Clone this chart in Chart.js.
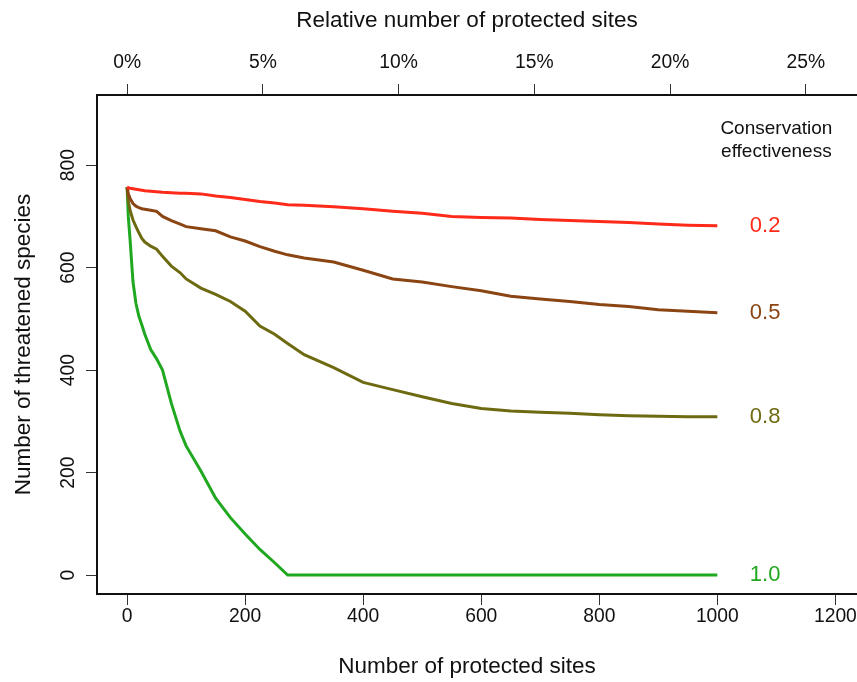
<!DOCTYPE html>
<html>
<head>
<meta charset="utf-8">
<script src="https://cdn.jsdelivr.net/npm/chart.js@4"></script>
<style>
  html, body { margin: 0; padding: 0; background: #fff; overflow: hidden; }
  #wrap { position: absolute; left: 0; top: 0; width: 900px; height: 682px; }
</style>
</head>
<body>
<div id="wrap"><canvas id="c" width="900" height="682"></canvas></div>
<script>
// ---- data ----
const sites = [0, 2, 5, 10, 15, 20, 25, 30, 40, 50, 60, 75, 90, 100, 125, 150, 175, 200, 225, 250, 272, 300, 350, 400, 450, 500, 550, 600, 650, 700, 750, 800, 850, 900, 950, 1000];
const eff02 = [757, 756, 755, 754, 753, 752, 751, 750, 749, 748, 747, 746, 745, 745, 744, 740, 737, 733, 729, 726, 723, 722, 719, 715, 710, 706, 700, 698, 697, 694, 692, 690, 688, 685, 683, 682];
const eff05 = [757, 745, 735, 725, 720, 717, 715, 714, 712, 710, 700, 692, 685, 680, 676, 672, 660, 652, 641, 632, 625, 619, 611, 595, 578, 572, 563, 555, 544, 539, 534, 528, 524, 518, 515, 512];
const eff08 = [757, 730, 712, 693, 680, 668, 657, 650, 642, 636, 622, 603, 590, 578, 560, 548, 534, 515, 486, 470, 452, 430, 405, 376, 362, 348, 335, 325, 320, 318, 316, 313, 311, 310, 309, 309];
const eff10 = [757, 700, 655, 572, 530, 505, 488, 470, 440, 422, 400, 335, 280, 252, 203, 150, 112, 80, 50, 24, 0, 0, 0, 0, 0, 0, 0, 0, 0, 0, 0, 0, 0, 0, 0, 0];
const seriesLabels = ['0.2', '0.5', '0.8', '1.0'];
const seriesColors = ['#ff2a1a', '#8b4513', '#6e6a12', '#20a820'];
const xTicks = [0, 200, 400, 600, 800, 1000, 1200];
const yTicks = [0, 200, 400, 600, 800];
const pctTicks = [0, 5, 10, 15, 20, 25];
const totalSites = 4600;
const legendTitle = ['Conservation', 'effectiveness'];
const xTitle = 'Number of protected sites';
const x2Title = 'Relative number of protected sites';
const yTitle = 'Number of threatened species';

// ---- scale ranges ----
const X_MIN = -51, X_MAX = 1301, Y_MIN = -37, Y_MAX = 937;
const LABEL_SITE = 1081, LEGEND_SITE = 1100, LEGEND_Y = [872, 827];
const FONT = '"Liberation Sans", Arial, Helvetica, sans-serif';

const allSeries = [eff02, eff05, eff08, eff10];
const datasets = allSeries.map((vals, i) => ({
  label: seriesLabels[i],
  data: sites.map((s, j) => ({ x: s, y: vals[j] })),
  borderColor: seriesColors[i],
  backgroundColor: seriesColors[i],
  borderWidth: 3,
  pointRadius: 0,
  tension: 0,
  fill: false
}));

const textPlugin = {
  id: 'texts',
  afterDraw(chart) {
    const ctx = chart.ctx;
    const xs = chart.scales.x, ys = chart.scales.y;
    ctx.save();
    ctx.textAlign = 'center';
    ctx.textBaseline = 'middle';
    ctx.fillStyle = '#111';
    ctx.font = '22.5px ' + FONT;
    ctx.fillText(x2Title, 467, 21);
    ctx.fillText(xTitle, 467, 667);
    ctx.save();
    ctx.translate(24, (chart.chartArea.top + chart.chartArea.bottom) / 2);
    ctx.rotate(-Math.PI / 2);
    ctx.fillText(yTitle, 0, 0);
    ctx.restore();
    // legend title
    ctx.font = '19px ' + FONT;
    legendTitle.forEach((t, i) => {
      ctx.fillText(t, xs.getPixelForValue(LEGEND_SITE), ys.getPixelForValue(LEGEND_Y[i]));
    });
    // series labels at end values
    ctx.font = '22px ' + FONT;
    allSeries.forEach((vals, i) => {
      ctx.fillStyle = seriesColors[i];
      ctx.fillText(seriesLabels[i], xs.getPixelForValue(LABEL_SITE), ys.getPixelForValue(vals[vals.length - 1]));
    });
    ctx.restore();
  }
};

Chart.defaults.font.family = FONT;
Chart.defaults.color = '#111';

const tickGrid = { display: true, drawOnChartArea: false, drawTicks: true, tickLength: 11, color: '#333', lineWidth: 1 };
const axisBorder = { display: true, color: '#111', width: 2 };

new Chart(document.getElementById('c'), {
  type: 'line',
  data: { datasets },
  plugins: [textPlugin],
  options: {
    responsive: false,
    animation: false,
    devicePixelRatio: 1,
    layout: { padding: { left: 0, top: 0, right: 5, bottom: 0 } },
    plugins: { legend: { display: false }, tooltip: { enabled: false }, title: { display: false } },
    scales: {
      x: {
        type: 'linear', position: 'bottom', min: X_MIN, max: X_MAX,
        afterBuildTicks: s => { s.ticks = xTicks.map(v => ({ value: v })); },
        afterFit: s => { s.height = 88; },
        ticks: { font: { size: 19.3 }, padding: 0, color: '#111', autoSkip: false, maxRotation: 0, callback: v => String(v) },
        grid: tickGrid, border: axisBorder
      },
      x2: {
        type: 'linear', position: 'top',
        min: X_MIN / totalSites * 100, max: X_MAX / totalSites * 100,
        afterBuildTicks: s => { s.ticks = pctTicks.map(v => ({ value: v })); },
        afterFit: s => { s.height = 95; },
        ticks: { font: { size: 19.3 }, padding: 10, color: '#111', autoSkip: false, maxRotation: 0, callback: v => v + '%' },
        grid: tickGrid, border: axisBorder
      },
      y: {
        type: 'linear', position: 'left', min: Y_MIN, max: Y_MAX,
        afterBuildTicks: s => { s.ticks = yTicks.map(v => ({ value: v })); },
        afterFit: s => { s.width = 97; },
        ticks: { font: { size: 19.3 }, padding: 1, color: '#111', autoSkip: false, minRotation: 90, maxRotation: 90, crossAlign: 'center', callback: v => String(v) },
        grid: tickGrid, border: axisBorder
      }
    }
  }
});
</script>
</body>
</html>
